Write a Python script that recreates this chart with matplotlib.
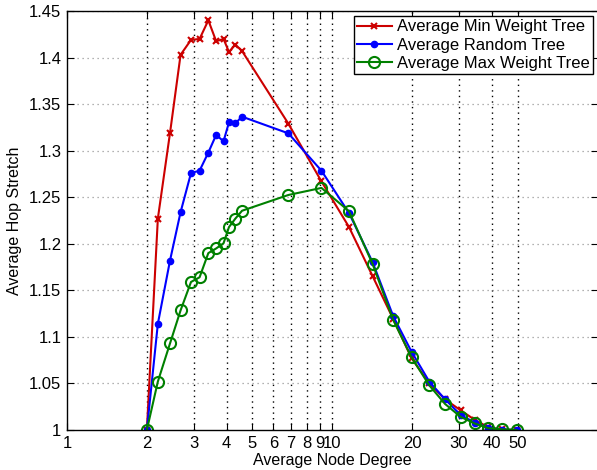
import matplotlib
matplotlib.use('Agg')
import matplotlib.pyplot as plt
from matplotlib.ticker import FixedLocator, NullLocator

# average node degree (shared x for all three series)
degree = [2.0, 2.2, 2.445, 2.68, 2.934, 3.16, 3.41, 3.65, 3.89, 4.08, 4.31, 4.57,
          6.83, 9.1, 11.56, 14.2, 16.98, 19.9, 23.2, 26.6, 30.5, 34.4, 38.7, 43.6, 49.5]

min_weight = [1.0, 1.227, 1.319, 1.403, 1.419, 1.420, 1.440, 1.4175, 1.420, 1.406, 1.414, 1.407,
              1.329, 1.267, 1.218, 1.165, 1.119, 1.077, 1.050, 1.033, 1.021, 1.011, 1.003, 1.0006, 1.0]
random_tree = [1.0, 1.114, 1.182, 1.234, 1.276, 1.2785, 1.298, 1.317, 1.310, 1.3305, 1.3294, 1.3365,
               1.3186, 1.2785, 1.233, 1.180, 1.122, 1.084, 1.052, 1.033, 1.016, 1.008, 1.0024, 1.0005, 1.0]
max_weight = [1.0, 1.052, 1.093, 1.1285, 1.159, 1.164, 1.190, 1.195, 1.2005, 1.218, 1.227, 1.2355,
              1.2524, 1.260, 1.235, 1.178, 1.118, 1.078, 1.048, 1.028, 1.014, 1.007, 1.002, 1.0007, 1.0]

xticks = [1, 2, 3, 4, 5, 6, 7, 8, 9, 10, 20, 30, 40, 50]
yticks = [1, 1.05, 1.1, 1.15, 1.2, 1.25, 1.3, 1.35, 1.4, 1.45]

plt.rcParams['font.family'] = ['Liberation Sans', 'DejaVu Sans']

fig = plt.figure(figsize=(5.97, 4.70), dpi=100)
ax = fig.add_axes([67 / 597, 40 / 470, 530.6 / 597, 419 / 470])

ax.plot(degree, min_weight, color='#cc0000', marker='x', markersize=5, mew=1.5,
        linewidth=1.5, label='Average Min Weight Tree')
ax.plot(degree, random_tree, color='#0000ff', marker='o', markersize=4.5,
        linewidth=1.5, label='Average Random Tree')
ax.plot(degree, max_weight, color='#008000', marker='o', markersize=8, mfc='none', mew=1.5,
        linewidth=1.5, label='Average Max Weight Tree')

ax.set_xscale('log')
ax.set_xlim(1, 100)
ax.set_ylim(1, 1.45)
ax.xaxis.set_major_locator(FixedLocator(xticks))
ax.xaxis.set_minor_locator(NullLocator())
ax.set_xticklabels([str(t) for t in xticks])
ax.set_yticks(yticks)
ax.set_yticklabels(['%g' % t for t in yticks])

ax.tick_params(direction='in', top=True, right=True, labelsize=12, length=5, width=0.8, pad=4)

# grid: black dotted verticals, lighter horizontals
for t in xticks[1:]:
    ax.axvline(t, color='black', linestyle=(0, (1, 3)), linewidth=1.0, zorder=0)
for t in yticks[1:]:
    ax.axhline(t, color='#999999', linestyle=(0, (1, 3)), linewidth=0.9, zorder=0)

for s in ax.spines.values():
    s.set_linewidth(1.0)

ax.set_xlabel('Average Node Degree', fontsize=11.5, labelpad=2)
ax.set_ylabel('Average Hop Stretch', fontsize=11.5, labelpad=5)

leg = ax.legend(loc='upper right', bbox_to_anchor=(593 / 597, 1 - 16 / 470),
                bbox_transform=fig.transFigure, fontsize=12, fancybox=False,
                framealpha=1, edgecolor='black', handlelength=2.1, handletextpad=0.3,
                labelspacing=0.2, borderpad=0.2, borderaxespad=0)
leg.get_frame().set_linewidth(1.0)

fig.savefig('out.png', dpi=100)
